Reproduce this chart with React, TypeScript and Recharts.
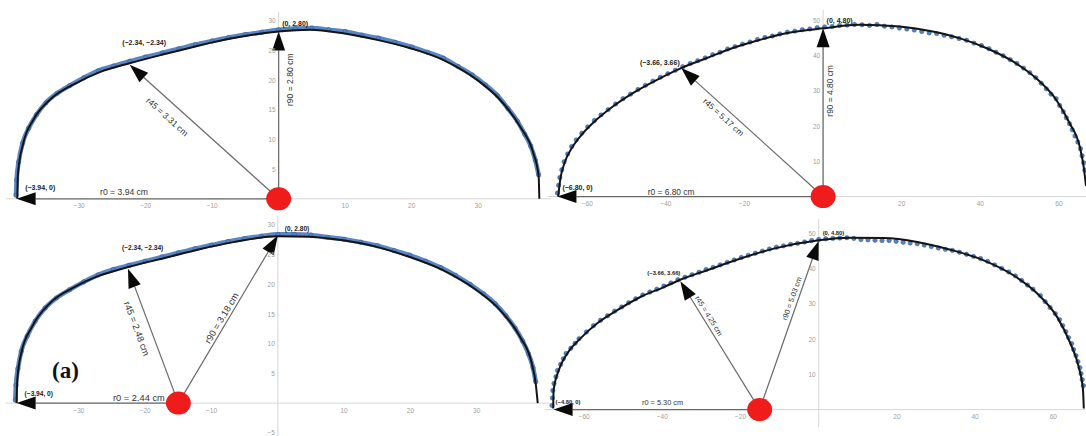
import React from 'react';
import { ScatterChart, Scatter, XAxis, YAxis, ReferenceLine, ReferenceDot } from 'recharts';

type Pt = { x: number; y: number };
const pts = (rows: number[][]): Pt[] => rows.map(([x, y]) => ({ x, y }));

// top-left: boundary samples (mm) and fitted curve
const tlMeasured = pts([
  [-39.5, 0.6], [-39.4, 3.2], [-39.1, 6.2], [-38.5, 9.4], [-37.6, 11.9], [-36.4, 14.2], [-35.0, 16.2],
  [-33.3, 17.8], [-31.4, 19.1], [-29.3, 20.4], [-27.1, 21.6], [-24.8, 22.4], [-22.4, 23.2], [-20.0, 23.9],
  [-17.5, 24.6], [-15.0, 25.3], [-12.5, 26.0], [-10.0, 26.6], [-7.5, 27.2], [-5.0, 27.7], [-2.5, 28.1],
  [0.0, 28.5], [2.5, 28.7], [5.0, 28.8], [7.5, 28.5], [10.0, 28.2], [12.5, 27.6], [15.0, 27.1], [17.5, 26.4],
  [20.0, 25.6], [22.4, 24.7], [24.8, 23.7], [27.0, 22.3], [29.1, 20.9], [31.1, 19.2], [32.9, 17.4],
  [34.5, 15.2], [35.9, 13.1], [37.0, 10.9], [37.9, 8.9], [38.6, 6.5], [39.1, 4.0],
]);
const tlFit = pts([
  [-39.3, 0], [-39.2, 4.3], [-38.4, 9.4], [-36.9, 13.3], [-34.4, 16.7], [-30.3, 19.6], [-26.8, 21.4],
  [-22.3, 22.9], [-16.8, 24.5], [-11.8, 25.9], [-6.8, 27.1], [0, 28.2], [4.7, 28.5], [9.7, 27.9], [14.8, 26.8],
  [19.8, 25.4], [24.8, 23.4], [29.8, 20.1], [33.3, 16.7], [36.3, 12.2], [38.3, 7.7], [39.1, 3.8], [39.2, 0],
]);

// top-right
const trMeasured = pts([
  [-67.6, 1.0], [-67.3, 3.2], [-67.0, 5.4], [-66.5, 7.6], [-65.9, 9.9], [-65.0, 12.1], [-64.0, 14.2],
  [-62.8, 16.1], [-61.4, 18.0], [-59.9, 19.8], [-58.2, 21.6], [-56.5, 23.2], [-54.7, 24.7], [-52.8, 26.3],
  [-50.9, 27.8], [-49.0, 29.1], [-47.1, 30.4], [-45.2, 31.6], [-43.3, 32.8], [-41.4, 33.9], [-39.5, 34.9],
  [-37.6, 35.9], [-35.7, 36.9], [-33.8, 37.8], [-31.9, 38.6], [-30.0, 39.4], [-28.1, 40.3], [-26.2, 41.0],
  [-24.3, 41.9], [-22.4, 42.6], [-20.5, 43.3], [-18.6, 43.9], [-16.7, 44.6], [-14.8, 45.2], [-12.9, 45.6],
  [-11.0, 46.2], [-9.1, 46.7], [-7.2, 47.0], [-5.3, 47.4], [-3.4, 47.6], [-1.5, 48.0], [0.4, 48.2],
  [2.3, 48.3], [4.2, 48.6], [6.1, 48.7], [8.0, 48.9], [9.9, 48.8], [11.8, 48.6], [13.7, 48.9], [15.6, 48.4],
  [17.5, 48.2], [19.4, 47.9], [21.3, 47.6], [23.2, 47.3], [25.1, 46.9], [27.0, 46.5], [28.9, 46.3],
  [30.8, 45.8], [32.7, 45.4], [34.6, 44.9], [36.5, 44.4], [38.4, 43.6], [40.3, 42.9], [42.2, 42.0],
  [44.0, 41.0], [45.8, 40.0], [47.6, 38.9], [49.3, 37.8], [51.0, 36.5], [52.6, 35.2], [54.1, 33.8],
  [55.5, 32.2], [56.8, 30.6], [58.0, 29.1], [59.3, 27.8], [60.2, 25.9], [61.1, 24.1], [61.9, 22.4],
  [62.7, 20.7], [63.4, 19.0], [64.1, 17.2], [64.8, 15.5], [65.5, 13.6], [65.9, 11.6], [66.3, 9.6], [66.6, 7.5],
]);
const trFit = pts([
  [-67.4, 0], [-66.9, 4.7], [-65.8, 9.5], [-63.7, 14.2], [-61.1, 18], [-57.7, 21.8], [-53.5, 25.6],
  [-48.4, 29.4], [-42.4, 33.1], [-36.1, 36.5], [-29.7, 39.3], [-23, 42.2], [-16.2, 44.5], [-9.4, 46.4],
  [0, 47.8], [9.3, 48.8], [19.5, 48.3], [27.9, 46.9], [34.7, 45], [41.5, 42.2], [48.3, 38.4], [54.2, 33.6],
  [59.3, 27.5], [62.7, 20.9], [65.3, 14.2], [66.3, 8.5], [66.9, 3],
]);

// bottom-left
const blMeasured = pts([
  [-39.6, 0.5], [-39.5, 3.0], [-39.2, 5.8], [-38.7, 8.7], [-37.8, 11.3], [-36.6, 13.8], [-35.1, 16.0],
  [-33.4, 17.7], [-31.4, 19.1], [-29.3, 20.4], [-27.1, 21.6], [-24.8, 22.5], [-22.4, 23.2], [-20.0, 23.9],
  [-17.5, 24.6], [-15.0, 25.3], [-12.5, 26.0], [-10.0, 26.6], [-7.5, 27.2], [-5.0, 27.7], [-2.5, 28.1],
  [0.0, 28.4], [2.5, 28.4], [5.0, 28.3], [7.5, 27.9], [10.0, 27.6], [12.5, 27.1], [15.0, 26.5], [17.5, 25.7],
  [19.9, 24.9], [22.3, 23.9], [24.6, 22.8], [26.8, 21.5], [29.0, 20.0], [31.0, 18.4], [32.8, 16.7],
  [34.4, 14.7], [35.8, 12.6], [36.9, 10.5], [37.8, 8.3], [38.5, 5.9], [38.9, 3.6],
]);
const blFit = pts([
  [-39.4, 0], [-39.3, 3.9], [-38.7, 8.4], [-37.1, 12.8], [-34.4, 16.8], [-30.4, 19.7], [-26.8, 21.5],
  [-22.6, 22.9], [-16.8, 24.5], [-11.8, 25.9], [-6.7, 27.1], [0, 28.1], [4.8, 28], [9.8, 27.4], [14.9, 26.3],
  [19.9, 24.6], [24.9, 22.4], [30, 19], [33.5, 15.7], [36.5, 11.2], [38.3, 6.7], [38.9, 3.3], [39.2, 0],
]);

// bottom-right
const brMeasured = pts([
  [-68.2, 1.2], [-68.1, 3.3], [-68.0, 5.4], [-67.7, 7.4], [-67.2, 9.3], [-66.8, 11.1], [-66.0, 12.8],
  [-65.3, 14.4], [-64.6, 15.9], [-63.4, 17.4], [-62.3, 18.8], [-61.3, 20.1], [-59.4, 22.0], [-57.6, 23.8],
  [-55.8, 25.3], [-54.0, 26.6], [-52.2, 27.9], [-50.4, 29.1], [-48.6, 30.3], [-46.8, 31.4], [-45.0, 32.5],
  [-43.2, 33.3], [-41.4, 34.1], [-39.6, 35.0], [-37.8, 35.9], [-36.0, 36.8], [-34.2, 37.5], [-32.4, 38.2],
  [-30.6, 38.9], [-28.8, 39.7], [-27.0, 40.3], [-25.2, 41.0], [-23.4, 41.7], [-21.6, 42.4], [-19.8, 43.1],
  [-18.0, 43.7], [-16.2, 44.3], [-14.4, 44.9], [-12.6, 45.5], [-10.8, 46.0], [-9.0, 46.4], [-7.2, 46.8],
  [-5.4, 47.1], [-3.6, 47.5], [-1.8, 47.9], [0.0, 48.2], [1.8, 48.4], [3.6, 48.5], [5.4, 48.6], [7.2, 48.7],
  [9.0, 48.5], [10.8, 48.2], [12.6, 48.1], [14.4, 48.0], [16.2, 47.9], [18.0, 47.9], [19.8, 47.7],
  [21.6, 47.4], [23.4, 47.2], [25.2, 47.0], [27.0, 46.6], [28.8, 46.2], [30.6, 45.8], [32.4, 45.4],
  [34.2, 45.1], [36.0, 44.6], [37.8, 44.0], [39.6, 43.4], [41.4, 42.8], [43.2, 42.0], [45.0, 41.0],
  [46.8, 40.0], [48.6, 39.0], [50.3, 37.9], [51.9, 36.6], [53.4, 35.3], [54.8, 34.1], [56.7, 32.3],
  [57.9, 30.6], [59.2, 28.9], [60.5, 27.2], [61.6, 25.5], [62.4, 23.8], [63.2, 22.1], [63.9, 20.4],
  [64.7, 18.7], [65.2, 17.0], [65.8, 15.3], [66.3, 13.6], [66.8, 11.9], [67.1, 10.2], [67.4, 8.5], [67.7, 6.8],
]);
const brFit = pts([
  [-67.9, 0.3], [-67.8, 5.5], [-66.5, 11.1], [-64.3, 15.9], [-61, 20.1], [-56.7, 24.4], [-51.6, 28.1],
  [-45.6, 31.9], [-39.6, 34.7], [-35.4, 36.8], [-28.5, 39.5], [-20, 42.8], [-11.5, 45.6], [0, 48],
  [8.1, 48.7], [16.6, 48.6], [25.2, 47.5], [33.7, 45.3], [42.2, 42.3], [49.9, 38], [55.9, 32.9], [61, 26.2],
  [64.4, 18.7], [66.5, 12.1], [67.6, 5.5], [67.8, 0.3],
]);

// tick labels
const smallXTicks = [-30, -20, -10, 10, 20, 30];
const bigXTicks = [-60, -40, -20, 20, 40, 60];
const tlYTicks = [5, 10, 15, 20, 25, 30];
const blYTicks = [-5, 5, 10, 15, 20, 25, 30];
const bigYTicks = [10, 20, 30, 40, 50];

// radii: source point, tips, text
const tlSource = { x: 0, y: 0 };
const tlTips = [{ x: -39.4, y: 0 }, { x: -22.4, y: 22.6 }, { x: 0, y: 28.2 }];
const tlText = ['r0 = 3.94 cm', 'r45 = 3.31 cm', 'r90 = 2.80 cm'];
const tlCoords = ['(−3.94, 0)', '(−2.34, −2.34)', '(0, 2.80)'];

const trSource = { x: 0, y: 0 };
const trTips = [{ x: -67.6, y: 0 }, { x: -36.1, y: 36.5 }, { x: 0, y: 47.8 }];
const trText = ['r0 = 6.80 cm', 'r45 = 5.17 cm', 'r90 = 4.80 cm'];
const trCoords = ['(−6.80, 0)', '(−3.66, 3.66)', '(0, 4.80)'];

const blSource = { x: -15, y: 0 };
const blTips = [{ x: -39.4, y: 0 }, { x: -22.6, y: 22.6 }, { x: 0, y: 28.2 }];
const blText = ['r0 = 2.44 cm', 'r45 = 2.48 cm', 'r90 = 3.18 cm'];
const blCoords = ['(−3.94, 0)', '(−2.34, −2.34)', '(0, 2.80)'];

const brSource = { x: -15.1, y: 0 };
const brTips = [{ x: -67.8, y: 0 }, { x: -35.4, y: 36.4 }, { x: 0, y: 47.8 }];
const brText = ['r0 = 5.30 cm', 'r45 = 4.25 cm', 'r90 = 5.03 cm'];
const brCoords = ['(−4.80, 0)', '(−3.66, 3.66)', '(0, 4.80)'];

type Box = { ox: number; oy: number; sx: number; sy: number; xd: [number, number]; yd: [number, number] };
type Place = { t: number; off: number };
type CoordPlace = { dx: number; dy: number; anchor: 'start' | 'end' };

interface PanelCfg {
  box: Box;
  measured: Pt[];
  fit: Pt[];
  band: boolean;
  xTicks: number[];
  yTicks: number[];
  yAxisFrom: number;
  source: Pt;
  tips: Pt[];
  texts: string[];
  coords: string[];
  places: Place[];
  coordPlaces: CoordPlace[];
  arrowFont: number;
  coordFont: number;
}

const FONT = '"Liberation Sans", Arial, sans-serif';
const fmt = (v: number) => (v < 0 ? '−' + Math.abs(v) : String(v));

const arrowShape = (text: string, place: Place, fs: number) => (p: any) => {
  const { x1, y1, x2, y2 } = p;
  const dx = x2 - x1;
  const dy = y2 - y1;
  const len = Math.hypot(dx, dy);
  const ux = dx / len;
  const uy = dy / len;
  const head = 19;
  const hw = 6.5;
  const bx = x2 - ux * head;
  const by = y2 - uy * head;
  const poly = `${x2},${y2} ${bx - uy * hw},${by + ux * hw} ${bx + uy * hw},${by - ux * hw}`;
  let ang = (Math.atan2(dy, dx) * 180) / Math.PI;
  if (ang > 90) ang -= 180;
  else if (ang < -90) ang += 180;
  const cx = x1 + ux * len * place.t - uy * place.off;
  const cy = y1 + uy * len * place.t + ux * place.off;
  return (
    <g>
      <line x1={x1} y1={y1} x2={bx} y2={by} stroke="#6a6a6a" strokeWidth={1.2} />
      <polygon points={poly} fill="#0a0a0a" />
      <text
        x={cx}
        y={cy}
        transform={`rotate(${ang} ${cx} ${cy})`}
        textAnchor="middle"
        dominantBaseline="central"
        fontSize={fs}
        fontFamily={FONT}
        fill="#333"
      >
        {text}
      </text>
    </g>
  );
};

const Panel = ({ cfg }: { cfg: PanelCfg }) => {
  const { ox, oy, sx, sy, xd, yd } = cfg.box;
  const left = ox + xd[0] * sx;
  const top = oy - yd[1] * sy;
  const width = (xd[1] - xd[0]) * sx;
  const height = (yd[1] - yd[0]) * sy;
  return (
    <div style={{ position: 'absolute', left, top, width, height }}>
      <ScatterChart width={width} height={height} margin={{ top: 0, right: 0, bottom: 0, left: 0 }}>
        <XAxis type="number" dataKey="x" domain={xd} hide allowDataOverflow />
        <YAxis type="number" dataKey="y" domain={yd} hide allowDataOverflow />
        <ReferenceLine segment={[{ x: xd[0], y: 0 }, { x: xd[1], y: 0 }]} stroke="#d6d6d6" ifOverflow="visible" />
        <ReferenceLine segment={[{ x: 0, y: cfg.yAxisFrom }, { x: 0, y: yd[1] }]} stroke="#d6d6d6" ifOverflow="visible" />
        {cfg.xTicks.map((v) => (
          <ReferenceDot
            key={'xt' + v}
            x={v}
            y={0}
            ifOverflow="visible"
            shape={(p: any) => (
              <text x={p.cx} y={p.cy + 9.5} textAnchor="middle" fontSize={6.5} fontFamily={FONT} fill="#a0a0a0">
                {fmt(v)}
              </text>
            )}
          />
        ))}
        {cfg.yTicks.map((v) => (
          <ReferenceDot
            key={'yt' + v}
            x={0}
            y={v}
            ifOverflow="visible"
            shape={(p: any) => (
              <text x={p.cx - 3} y={p.cy} textAnchor="end" dominantBaseline="central" fontSize={6.5} fontFamily={FONT} fill="#a0a0a0">
                {fmt(v)}
              </text>
            )}
          />
        ))}
        <Scatter
          data={cfg.measured}
          isAnimationActive={false}
          line={cfg.band ? { stroke: '#5b86c4', strokeWidth: 4.6 } : false}
          lineJointType="monotoneX"
          shape={(p: any) => <circle cx={p.cx} cy={p.cy} r={cfg.band ? 2.2 : 2.2} fill="#5681c2" stroke="#34578f" strokeWidth={0.5} />}
        />
        <Scatter
          data={cfg.fit}
          isAnimationActive={false}
          line={{ stroke: '#141414', strokeWidth: 2 }}
          lineJointType="monotoneX"
          shape={() => <g />}
        />
        {cfg.tips.map((tip, i) => (
          <ReferenceLine
            key={'ar' + i}
            segment={[cfg.source, tip]}
            ifOverflow="visible"
            shape={arrowShape(cfg.texts[i], cfg.places[i], cfg.arrowFont)}
          />
        ))}
        {cfg.tips.map((tip, i) => (
          <ReferenceDot
            key={'co' + i}
            x={tip.x}
            y={tip.y}
            ifOverflow="visible"
            shape={(p: any) => (
              <text
                x={p.cx + cfg.coordPlaces[i].dx}
                y={p.cy + cfg.coordPlaces[i].dy}
                textAnchor={cfg.coordPlaces[i].anchor}
                fontSize={cfg.coordFont}
                fontWeight="bold"
                fontFamily={FONT}
                fill="#1a1a1a"
              >
                {cfg.coords[i]}
              </text>
            )}
          />
        ))}
        <ReferenceDot
          x={cfg.source.x}
          y={cfg.source.y}
          ifOverflow="visible"
          shape={(p: any) => <ellipse cx={p.cx} cy={p.cy} rx={12.5} ry={11.5} fill="#f01c1c" />}
        />
      </ScatterChart>
    </div>
  );
};

const panels: PanelCfg[] = [
  {
    box: { ox: 278.5, oy: 199, sx: 6.65, sy: 5.93, xd: [-41, 41], yd: [-3, 31.5] },
    measured: tlMeasured, fit: tlFit, band: true,
    xTicks: smallXTicks, yTicks: tlYTicks, yAxisFrom: 0,
    source: tlSource, tips: tlTips, texts: tlText, coords: tlCoords,
    places: [{ t: 0.59, off: 7 }, { t: 0.687, off: -13.6 }, { t: 0.712, off: 11.5 }],
    coordPlaces: [{ dx: 8.5, dy: -8.5, anchor: 'start' }, { dx: -7.5, dy: -20, anchor: 'start' }, { dx: 3.5, dy: -5.3, anchor: 'start' }],
    arrowFont: 8.6, coordFont: 7,
  },
  {
    box: { ox: 823.5, oy: 196.7, sx: 3.93, sy: 3.52, xd: [-70, 67], yd: [-5, 53] },
    measured: trMeasured, fit: trFit, band: false,
    xTicks: bigXTicks, yTicks: bigYTicks, yAxisFrom: 0,
    source: trSource, tips: trTips, texts: trText, coords: trCoords,
    places: [{ t: 0.572, off: 5 }, { t: 0.664, off: -8 }, { t: 0.628, off: 7.2 }],
    coordPlaces: [{ dx: 5, dy: -6.5, anchor: 'start' }, { dx: -1.5, dy: -3.5, anchor: 'end' }, { dx: 3.5, dy: -5.5, anchor: 'start' }],
    arrowFont: 8.4, coordFont: 7,
  },
  {
    box: { ox: 278, oy: 403, sx: 6.63, sy: 5.94, xd: [-41, 41], yd: [-6, 31.5] },
    measured: blMeasured, fit: blFit, band: true,
    xTicks: smallXTicks, yTicks: blYTicks, yAxisFrom: -6,
    source: blSource, tips: blTips, texts: blText, coords: blCoords,
    places: [{ t: 0.244, off: 5 }, { t: 0.588, off: -13 }, { t: 0.489, off: -6 }],
    coordPlaces: [{ dx: 8, dy: -7.5, anchor: 'start' }, { dx: -6, dy: -19.3, anchor: 'start' }, { dx: 7, dy: -5, anchor: 'start' }],
    arrowFont: 9.3, coordFont: 6.6,
  },
  {
    box: { ox: 818.3, oy: 409.3, sx: 3.91, sy: 3.53, xd: [-70, 69], yd: [-6, 54] },
    measured: brMeasured, fit: brFit, band: false,
    xTicks: bigXTicks, yTicks: bigYTicks, yAxisFrom: -5,
    source: brSource, tips: brTips, texts: brText, coords: brCoords,
    places: [{ t: 0.471, off: 7.6 }, { t: 0.705, off: 6 }, { t: 0.646, off: -6.2 }],
    coordPlaces: [{ dx: 2, dy: -6, anchor: 'start' }, { dx: 0, dy: -6, anchor: 'end' }, { dx: 4, dy: -5.5, anchor: 'start' }],
    arrowFont: 7.4, coordFont: 5.8,
  },
];

export default function App() {
  return (
    <div style={{ position: 'absolute', left: 0, top: 0, width: 1086, height: 436, background: '#fff', overflow: 'hidden' }}>
      {panels.map((cfg, i) => (
        <Panel key={i} cfg={cfg} />
      ))}
      <div
        style={{
          position: 'absolute',
          left: 52,
          top: 359,
          fontFamily: '"Liberation Serif", "Times New Roman", serif',
          fontWeight: 'bold',
          fontSize: 23,
          lineHeight: '24px',
          color: '#111',
        }}
      >
        (a)
      </div>
    </div>
  );
}
